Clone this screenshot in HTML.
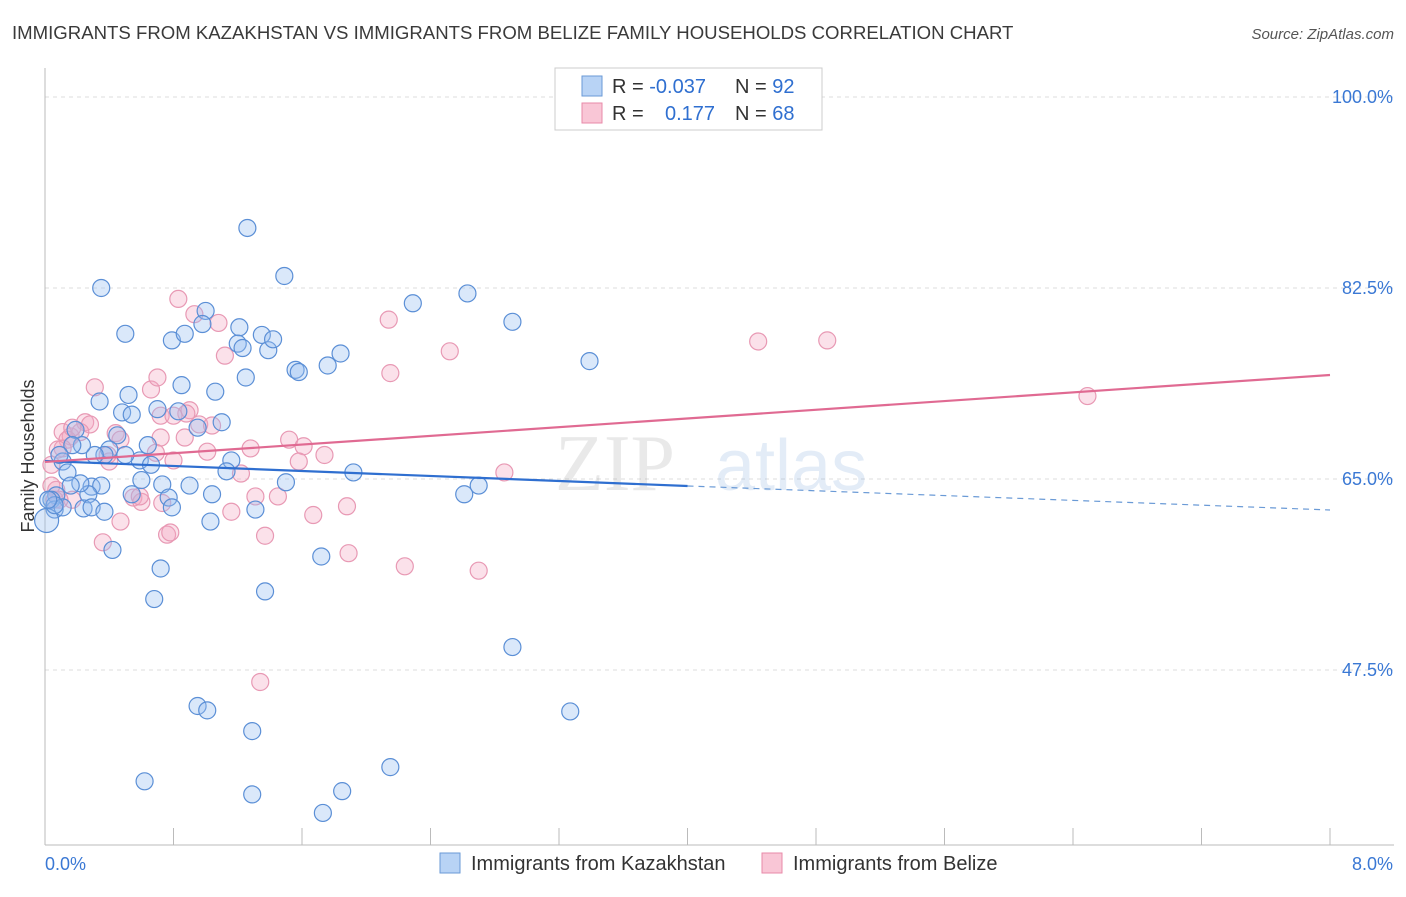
<!DOCTYPE html>
<html><head><meta charset="utf-8"><style>
body{margin:0;background:#fff;font-family:"Liberation Sans",sans-serif;}
</style></head><body>
<svg id="chart" width="1406" height="892" xmlns="http://www.w3.org/2000/svg" font-family="Liberation Sans, sans-serif">
<text x="12" y="39" font-size="18.6" fill="#3a3a3a">IMMIGRANTS FROM KAZAKHSTAN VS IMMIGRANTS FROM BELIZE FAMILY HOUSEHOLDS CORRELATION CHART</text>
<text x="1394" y="39" font-size="15" fill="#555" text-anchor="end" font-style="italic">Source: ZipAtlas.com</text>
<text transform="translate(34,456) rotate(-90)" font-size="18" fill="#333" text-anchor="middle">Family Households</text>
<g id="grid"></g>
<g opacity="0.18">
<text x="555" y="490" font-size="80" font-family="Liberation Serif, serif" fill="#888">ZIP</text>
<text x="715" y="490" font-size="72" fill="#6a9ad6">atlas</text>
</g>
<g id="points"></g>
<g id="lines"></g>
<g>
<rect x="555" y="68" width="267" height="62" fill="#fff" stroke="#ccc"/>
<rect x="582" y="76" width="20" height="20" fill="#b8d3f5" stroke="#6a9ad6"/>
<rect x="582" y="103" width="20" height="20" fill="#f9c6d6" stroke="#e88aa8"/>
<text x="612" y="93" font-size="20" fill="#333">R = <tspan fill="#2f6fd0">-0.037</tspan></text>
<text x="735" y="93" font-size="20" fill="#333">N = <tspan fill="#2f6fd0">92</tspan></text>
<text x="612" y="120" font-size="20" fill="#333">R = </text>
<text x="665" y="120" font-size="20" fill="#2f6fd0">0.177</text>
<text x="735" y="120" font-size="20" fill="#333">N = <tspan fill="#2f6fd0">68</tspan></text>
</g>
<g>
<rect x="440" y="853" width="20" height="20" fill="#b8d3f5" stroke="#6a9ad6"/>
<text x="471" y="870" font-size="20" fill="#333">Immigrants from Kazakhstan</text>
<rect x="762" y="853" width="20" height="20" fill="#f9c6d6" stroke="#e88aa8"/>
<text x="793" y="870" font-size="20" fill="#333">Immigrants from Belize</text>
</g>
</svg>
<script>
const yTicks=[100,82.5,65,47.5];
const yTickLabels=["100.0%","82.5%","65.0%","47.5%"];
const xTickLabels=["0.0%","8.0%"];
const blueX=[1.26,1.49,0.35,2.29,2.63,2.91,0.50,0.79,0.87,1.00,0.98,1.21,1.20,1.23,1.35,1.39,1.42,1.84,1.76,1.56,1.58,3.39,1.25,0.85,1.06,0.52,0.34,0.48,0.70,0.54,0.83,1.10,0.95,0.45,0.40,0.64,0.59,0.50,0.66,0.37,0.31,0.23,0.19,0.17,0.11,0.14,0.09,1.16,1.13,1.92,1.50,0.90,0.73,0.54,0.60,1.04,0.77,0.79,0.29,0.35,0.27,0.22,0.16,0.07,0.04,0.06,0.11,0.24,0.29,0.37,1.31,1.03,2.61,2.70,0.42,1.72,0.72,1.37,0.68,2.91,0.95,1.01,3.27,1.29,2.15,0.62,1.29,1.85,1.73,0.01,0.06,0.02];
const blueY=[88.0,83.6,82.5,81.1,82.0,79.4,78.3,77.7,78.3,80.4,79.2,78.9,77.4,77.0,78.2,76.8,77.8,76.5,75.4,75.0,74.8,75.8,74.3,73.6,73.0,72.7,72.1,71.1,71.4,70.9,71.2,70.2,69.7,69.0,67.7,68.1,66.7,67.2,66.3,67.2,67.2,68.1,69.5,68.1,66.6,65.6,67.2,66.7,65.7,65.6,64.7,64.4,64.5,63.6,64.9,63.6,63.3,62.4,64.3,64.4,63.6,64.6,64.4,63.5,63.1,62.2,62.4,62.3,62.4,62.0,62.2,61.1,63.6,64.4,58.5,57.9,56.8,54.7,54.0,49.6,44.2,43.8,43.7,41.9,38.6,37.3,36.1,36.4,34.4,61.2,62.6,63.1];
const pinkX=[0.83,0.93,1.08,2.14,2.52,1.12,4.44,4.87,2.15,0.31,0.66,0.70,6.49,0.90,0.72,0.88,0.80,0.25,0.28,0.96,1.04,0.11,0.16,0.22,0.14,0.17,0.11,0.44,0.47,0.72,0.87,0.69,0.80,1.01,1.52,1.61,1.28,1.74,1.58,0.40,0.08,0.04,1.22,2.86,0.07,0.06,0.17,0.55,0.60,0.73,1.31,1.45,1.16,1.67,1.88,0.47,0.36,0.76,0.78,1.37,1.89,2.24,2.70,1.34,0.59,0.04,0.39,0.09];
const pinkY=[81.5,80.1,79.3,79.6,76.7,76.3,77.6,77.7,74.7,73.4,73.2,74.3,72.6,71.3,70.8,71.0,70.8,70.2,70.0,70.0,69.9,69.3,68.9,69.3,68.6,69.7,67.8,69.2,68.6,68.8,68.8,67.4,66.7,67.5,68.6,68.0,67.8,67.2,66.6,66.6,67.7,66.3,65.5,65.6,64.0,63.1,63.1,63.3,62.9,62.8,63.4,63.4,62.0,61.7,62.5,61.1,59.2,59.9,60.1,59.8,58.2,57.0,56.6,46.4,63.4,64.4,67.2,63.1];
const blueTrend=[66.65,64.36,62.16];
const pinkTrend=[66.56,74.53];
const NS="http://www.w3.org/2000/svg";
const sx=v=>45+v/8*1285;
const sy=v=>97+(100-v)*10.914;
function mk(tag,attrs,parent){const e=document.createElementNS(NS,tag);for(const k in attrs)e.setAttribute(k,attrs[k]);parent.appendChild(e);return e;}
const grid=document.getElementById('grid');
yTicks.forEach((t,i)=>{
 const l=mk('line',{x1:45,x2:1394,y1:sy(t),y2:sy(t),stroke:'#ddd','stroke-dasharray':'4,4'},grid);
 
 
 const tx=mk('text',{x:1393,y:sy(t)+6,'font-size':18,fill:'#3a78d4','text-anchor':'end'},grid);
 tx.textContent=yTickLabels[i];
 
 
});
const ax=mk('line',{x1:45,x2:45,y1:68,y2:845,stroke:'#bbb'},grid);


const bx=mk('line',{x1:45,x2:1394,y1:845,y2:845,stroke:'#bbb'},grid);


for(let i=0;i<=10;i++){
 const t=mk('line',{x1:sx(i*0.8),x2:sx(i*0.8),y1:828,y2:845,stroke:'#bbb'},grid);
 
 
}
[[0,'start',45],[8,'end',1393]].forEach((d,i)=>{
 const tx=mk('text',{x:d[2],y:870,'font-size':18,fill:'#3a78d4','text-anchor':d[1]},grid);
 tx.textContent=xTickLabels[i];
 
 
});
const pts=document.getElementById('points');
pinkX.forEach((x,i)=>{
 const c=mk('circle',{cx:sx(x),cy:sy(pinkY[i]),r:8.5,fill:'rgba(244,170,196,0.35)',stroke:'#e899b4','stroke-width':1.2},pts);
 
 
});
blueX.forEach((x,i)=>{
 const c=mk('circle',{cx:sx(x),cy:sy(blueY[i]),r:(i==89?12:8.5),fill:'rgba(150,190,240,0.35)',stroke:'#5b8fd6','stroke-width':1.2},pts);
 
 
});
const lines=document.getElementById('lines');
const b1=mk('line',{x1:sx(0),y1:sy(blueTrend[0]),x2:sx(4),y2:sy(blueTrend[1]),stroke:'#2f6fd0','stroke-width':2.2},lines);


const b2=mk('line',{x1:sx(4),y1:sy(blueTrend[1]),x2:sx(8),y2:sy(blueTrend[2]),stroke:'#6a9ad6','stroke-width':1.2,'stroke-dasharray':'6,5'},lines);


const p1=mk('line',{x1:sx(0),y1:sy(pinkTrend[0]),x2:sx(8),y2:sy(pinkTrend[1]),stroke:'#e06a92','stroke-width':2.2},lines);


</script>
</body></html>
